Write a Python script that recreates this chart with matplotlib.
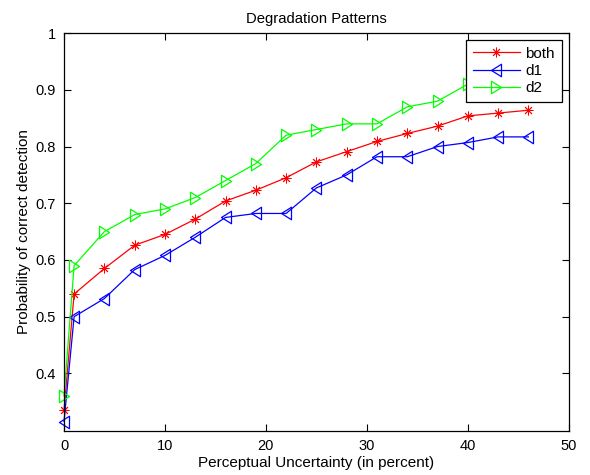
import matplotlib
matplotlib.use("Agg")
import matplotlib.pyplot as plt
from matplotlib.path import Path

plt.rcParams['font.family'] = ['Liberation Sans', 'DejaVu Sans']

uncertainty = [0, 1, 4, 7, 10, 13, 16, 19, 22, 25, 28, 31, 34, 37, 40, 43, 46]
both = [0.335, 0.54, 0.585, 0.626, 0.645, 0.672, 0.704, 0.723, 0.745, 0.773,
        0.791, 0.809, 0.823, 0.836, 0.854, 0.859, 0.864]
d1 = [0.315, 0.50, 0.532, 0.583, 0.608, 0.640, 0.675, 0.682, 0.682, 0.727,
      0.750, 0.782, 0.782, 0.800, 0.807, 0.817, 0.817]
d2 = [0.36, 0.59, 0.65, 0.68, 0.69, 0.71, 0.74, 0.77, 0.82, 0.83,
      0.84, 0.84, 0.87, 0.88, 0.91, 0.92, 0.93]

x_ticks = [0, 10, 20, 30, 40, 50]
y_ticks = [0.4, 0.5, 0.6, 0.7, 0.8, 0.9, 1.0]
y_tick_labels = ['0.4', '0.5', '0.6', '0.7', '0.8', '0.9', '1']

# slightly narrow triangle markers pointing left / right
tri_right = Path([(-0.8, -1), (0.8, 0), (-0.8, 1), (-0.8, -1)],
                 [Path.MOVETO, Path.LINETO, Path.LINETO, Path.CLOSEPOLY])
tri_left = Path([(0.8, -1), (-0.8, 0), (0.8, 1), (0.8, -1)],
                [Path.MOVETO, Path.LINETO, Path.LINETO, Path.CLOSEPOLY])
asterisk = (8, 2, 0)

fig = plt.figure(figsize=(5.9, 4.75), dpi=100)
ax = fig.add_axes([0.1085, 0.0933, 0.8555, 0.837])

ax.plot(uncertainty, both, color='#ff0000', lw=0.9, marker=asterisk,
        markersize=7, markeredgewidth=0.65, clip_on=False, label='both')
ax.plot(uncertainty, d1, color='#0000ff', lw=0.9, marker=tri_left,
        markersize=9, markeredgewidth=0.9, markerfacecolor='none',
        clip_on=False, label='d1')
ax.plot(uncertainty, d2, color='#00ff00', lw=0.9, marker=tri_right,
        markersize=9, markeredgewidth=0.9, markerfacecolor='none',
        clip_on=False, label='d2')

ax.set_xlim(0, 50)
ax.set_ylim(0.299, 1.0)
ax.set_xticks(x_ticks)
ax.set_yticks(y_ticks)
ax.set_yticklabels(y_tick_labels)
ax.tick_params(direction='in', top=True, right=True, length=5, width=0.8,
               labelsize=10.5, pad=6)
for s in ax.spines.values():
    s.set_linewidth(0.9)
    s.set_zorder(3)

ax.set_title('Degradation Patterns', fontsize=10.7, pad=7)
ax.set_xlabel('Perceptual Uncertainty (in percent)', fontsize=11, labelpad=2)
ax.set_ylabel('Probability of correct detection', fontsize=11, labelpad=3)

leg = ax.legend(loc='upper right', bbox_to_anchor=(0.986, 0.983), fontsize=11,
                fancybox=False, framealpha=1, edgecolor='black',
                handlelength=3.1, borderpad=0.45, labelspacing=0.22,
                handletextpad=0.35, borderaxespad=0)
leg.get_frame().set_linewidth(0.9)
leg.set_zorder(10)

fig.savefig('out.png', dpi=100)
